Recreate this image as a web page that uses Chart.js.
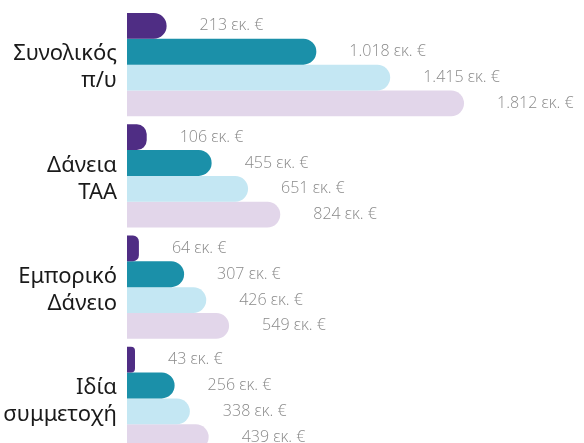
<!DOCTYPE html>
<html>
<head>
<meta charset="utf-8">
<script src="https://cdn.jsdelivr.net/npm/chart.js@4.4.0/dist/chart.umd.min.js"></script>
<style>
  html, body { margin: 0; padding: 0; background: #ffffff; overflow: hidden; }
  #wrap { position: relative; width: 584px; height: 455px; }
</style>
</head>
<body>
<div id="wrap"><canvas id="c"></canvas></div>
<script>
const categories = [
  ["Συνολικός", "π/υ"],
  ["Δάνεια", "ΤΑΑ"],
  ["Εμπορικό", "Δάνειο"],
  ["Ιδία", "συμμετοχή"]
];
const series1 = [213, 106, 64, 43];
const series2 = [1018, 455, 307, 256];
const series3 = [1415, 651, 426, 338];
const series4 = [1812, 824, 549, 439];
const unitSuffix = " εκ. €";

function fmt(v) {
  return String(v).replace(/\B(?=(\d{3})+(?!\d))/g, ".") + unitSuffix;
}

const valueLabels = {
  id: 'valueLabels',
  afterDatasetsDraw(chart) {
    const ctx = chart.ctx;
    ctx.save();
    ctx.font = '300 16px "Open Sans", "Noto Sans", sans-serif';
    ctx.fillStyle = '#8a8a8a';
    ctx.textAlign = 'left';
    ctx.textBaseline = 'middle';
    chart.data.datasets.forEach((ds, i) => {
      const meta = chart.getDatasetMeta(i);
      meta.data.forEach((el, j) => {
        ctx.fillText(fmt(ds.data[j]), el.x + 33, el.y);
      });
    });
    ctx.restore();
  }
};

const mk = (data, color) => ({
  data,
  backgroundColor: color,
  borderRadius: 13,
  borderSkipped: 'start',
  barPercentage: 1.0,
  categoryPercentage: 0.928
});

new Chart(document.getElementById('c'), {
  type: 'bar',
  data: {
    labels: categories,
    datasets: [
      mk(series1, '#4f2d84'),
      mk(series2, '#1b90a9'),
      mk(series3, '#c4e7f3'),
      mk(series4, '#e2d6ea')
    ]
  },
  options: {
    indexAxis: 'y',
    responsive: true,
    maintainAspectRatio: false,
    animation: false,
    layout: { padding: { top: 9, bottom: 1, left: 0, right: 0 } },
    plugins: { legend: { display: false }, tooltip: { enabled: false } },
    scales: {
      x: {
        display: false,
        min: 0,
        max: 2457
      },
      y: {
        grid: { display: false, drawTicks: false },
        border: { display: false },
        afterFit(scale) {
          scale.width = 127;
          scale.paddingTop = 0;
          scale.paddingBottom = 0;
        },
        ticks: {
          padding: 10,
          labelOffset: 3,
          color: '#1a1a1a',
          font: { family: '"Noto Sans", sans-serif', size: 22, lineHeight: 1.22 }
        }
      }
    }
  },
  plugins: [valueLabels]
});
</script>
</body>
</html>
